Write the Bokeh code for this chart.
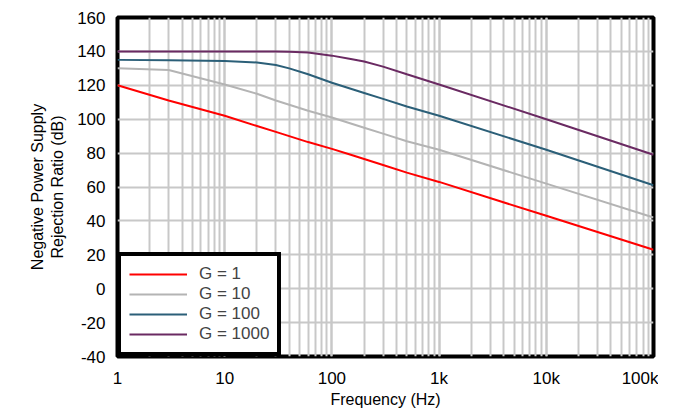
from bokeh.plotting import figure
from bokeh.models import Legend, LegendItem, FixedTicker, LogTicker
from bokeh.embed import file_html
from bokeh.resources import INLINE

freq = [1, 3, 10, 20, 30, 40, 60, 100, 150, 200, 300, 500, 1000, 10000, 100000]
g1 = [120, 111, 102, 96, 92.5, 90, 86.5, 82.5, 79, 76.5, 73, 68.5, 63, 43, 23]
g10 = [130, 129, 120.5, 115, 111, 108.5, 105, 101, 97.5, 95, 91.5, 87, 82, 62, 42]
g100 = [135, 134.8, 134.3, 133.5, 132, 130, 126.5, 121.5, 118, 115.5, 112, 107.5, 102, 82, 61]
g1000 = [140, 140, 140, 140, 140, 139.8, 139.3, 137.5, 135.5, 134, 131, 126.5, 120.5, 100, 79]

labels = ["G = 1", "G = 10", "G = 100", "G = 1000"]
colors = ["#ff0000", "#b4b4b4", "#2b5f78", "#6a2a62"]

p = figure(width=658, height=410, x_axis_type="log", x_range=(1, 100000), y_range=(-40, 160),
           output_backend="svg", toolbar_location=None,
           min_border_left=117, min_border_right=5, min_border_top=17, min_border_bottom=18)
p.outline_line_color = "black"
p.outline_line_width = 4
p.outline_line_alpha = 1.0

lines = []
for ys, c in zip([g1, g10, g100, g1000], colors):
    lines.append(p.line(freq, ys, color=c, line_width=2))

p.xaxis.ticker = LogTicker(num_minor_ticks=10)
p.xaxis.major_label_overrides = {1: "1", 10: "10", 100: "100", 1000: "1k", 10000: "10k", 100000: "100k"}
p.yaxis.ticker = FixedTicker(ticks=list(range(-40, 161, 20)))
p.yaxis.major_label_overrides = {-20: "-20", -40: "-40"}
p.xgrid.grid_line_color = "#c8c8c8"
p.xgrid.grid_line_width = 2
p.xgrid.grid_line_alpha = 1
p.xgrid.minor_grid_line_color = "#c8c8c8"
p.xgrid.minor_grid_line_width = 2
p.ygrid.grid_line_color = "#c8c8c8"
p.ygrid.grid_line_width = 2

for ax in [p.xaxis[0], p.yaxis[0]]:
    ax.axis_line_color = None
    ax.major_tick_line_color = None
    ax.minor_tick_line_color = None
    ax.major_label_text_font = "Liberation Sans"
    ax.major_label_text_font_size = "17px"
    ax.major_label_text_color = "black"
    ax.axis_label_text_font = "Liberation Sans"
    ax.axis_label_text_font_size = "16px"
    ax.axis_label_text_font_style = "normal"
    ax.axis_label_text_color = "black"
p.xaxis.axis_label = "Frequency (Hz)"
p.xaxis.axis_label_standoff = 0
p.xaxis.major_label_standoff = 6
p.yaxis.axis_label = "Negative Power Supply\nRejection Ratio (dB)"
p.yaxis.axis_label_standoff = 8
p.yaxis.major_label_standoff = 6

legend = Legend(items=[LegendItem(label=l, renderers=[r]) for l, r in zip(labels, lines)],
                location="bottom_left", margin=0, border_line_color="black", border_line_width=4,
                border_line_alpha=1, label_standoff=12,
                label_text_font="Liberation Sans", label_text_font_size="17px",
                glyph_width=58, spacing=0, padding=8, label_height=18, background_fill_alpha=1)
p.add_layout(legend)

open("out.html", "w").write(file_html(p, INLINE))
